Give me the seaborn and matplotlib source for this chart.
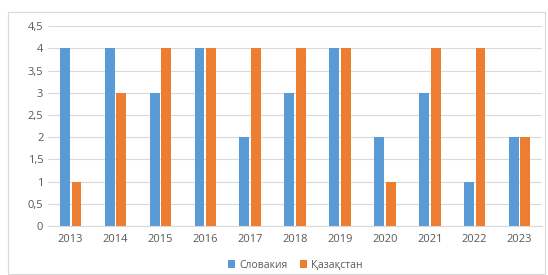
import matplotlib
matplotlib.use('Agg')
import matplotlib.pyplot as plt
from matplotlib.patches import Rectangle
from matplotlib.ticker import FuncFormatter
import seaborn as sns
import pandas as pd

years = ['2013', '2014', '2015', '2016', '2017', '2018', '2019', '2020', '2021', '2022', '2023']
slovakia = [4, 4, 3, 4, 2, 3, 4, 2, 3, 1, 2]
kazakhstan = [1, 3, 4, 4, 4, 4, 4, 1, 4, 4, 2]
series_names = ['Словакия', 'Қазақстан']
colors = ['#5B9BD5', '#ED7D31']

df = pd.DataFrame({
    'year': years * 2,
    'value': slovakia + kazakhstan,
    'country': [series_names[0]] * len(years) + [series_names[1]] * len(years),
})

sns.set_style('white')
plt.rcParams['font.family'] = ['Open Sans', 'DejaVu Sans']

fig = plt.figure(figsize=(5.48, 2.75), dpi=100)
ax = fig.add_axes([0.088, 0.178, 0.901, 0.727])

sns.barplot(data=df, x='year', y='value', hue='country', palette=colors,
            width=0.52, gap=0.15, saturation=1, linewidth=0, ax=ax)

ax.set_ylim(0, 4.5)
ax.set_xlim(-0.5, len(years) - 0.5)
ax.set_yticks([i * 0.5 for i in range(10)])
ax.yaxis.set_major_formatter(FuncFormatter(lambda v, p: ('%g' % v).replace('.', ',')))
ax.grid(axis='y', color='#D9D9D9', linewidth=0.8)
ax.set_axisbelow(True)
for s in ['top', 'right', 'left']:
    ax.spines[s].set_visible(False)
ax.spines['bottom'].set_color('#D9D9D9')
ax.tick_params(axis='both', length=0, colors='#595959', labelsize=8)
ax.tick_params(axis='x', pad=6)
ax.set_xlabel('')
ax.set_ylabel('')

ax.legend(loc='lower center', bbox_to_anchor=(0.5, -0.26), ncol=2, frameon=False,
          fontsize=7.5, handlelength=0.7, handleheight=0.7, columnspacing=1.2,
          handletextpad=0.4, labelcolor='#595959', borderpad=0.2)

fig.patches.append(Rectangle((0.015, 0.005), 0.98, 0.95, transform=fig.transFigure,
                             fill=False, edgecolor='#D9D9D9', linewidth=0.8))

fig.savefig('out.png', dpi=100)
